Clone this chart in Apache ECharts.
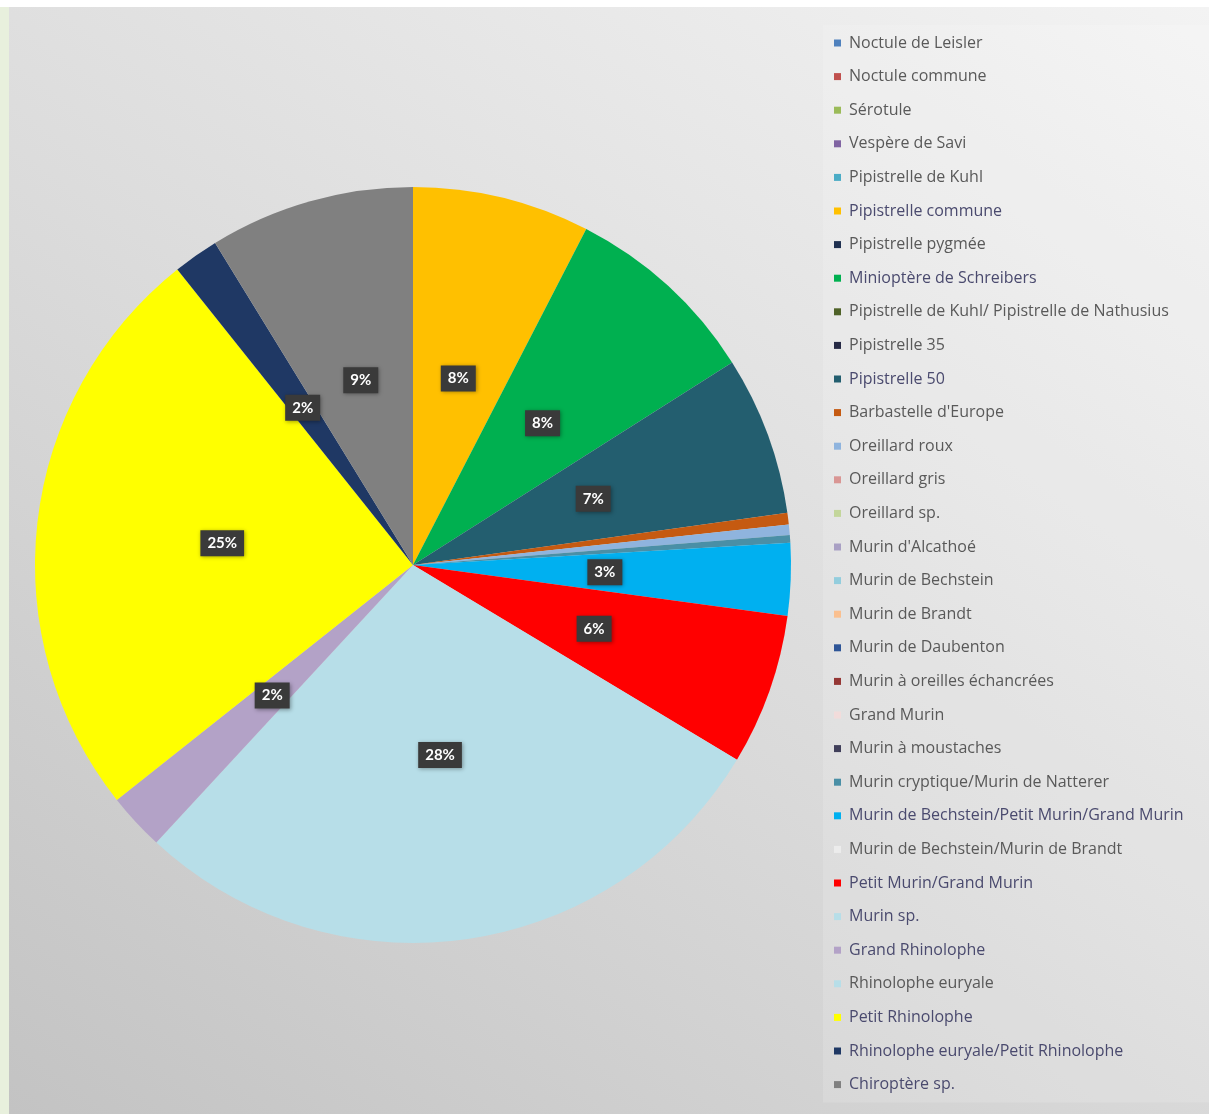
<!DOCTYPE html>
<html>
<head>
<meta charset="utf-8">
<script src="https://cdn.jsdelivr.net/npm/echarts@6/dist/echarts.min.js"></script>
<style>
  html, body { margin: 0; padding: 0; background: #ffffff; }
  #strip { position: absolute; left: 0; top: 7px; width: 9px; height: 1107px; background: #e8f0dd; }
  #chart { position: absolute; left: 9px; top: 7px; width: 1200px; height: 1107px;
           background: linear-gradient(35deg, #c3c3c3 0%, #dcdcdc 50%, #f3f3f3 100%); }
</style>
</head>
<body>
<div id="strip"></div>
<div id="chart"></div>
<script>
const categories = [
  "Noctule de Leisler", "Noctule commune", "Sérotule", "Vespère de Savi",
  "Pipistrelle de Kuhl", "Pipistrelle commune", "Pipistrelle pygmée",
  "Minioptère de Schreibers", "Pipistrelle de Kuhl/ Pipistrelle de Nathusius",
  "Pipistrelle 35", "Pipistrelle 50", "Barbastelle d'Europe", "Oreillard roux",
  "Oreillard gris", "Oreillard sp.", "Murin d'Alcathoé", "Murin de Bechstein",
  "Murin de Brandt", "Murin de Daubenton", "Murin à oreilles échancrées",
  "Grand Murin", "Murin à moustaches", "Murin cryptique/Murin de Natterer",
  "Murin de Bechstein/Petit Murin/Grand Murin", "Murin de Bechstein/Murin de Brandt",
  "Petit Murin/Grand Murin", "Murin sp.", "Grand Rhinolophe", "Rhinolophe euryale",
  "Petit Rhinolophe", "Rhinolophe euryale/Petit Rhinolophe", "Chiroptère sp."
];
// share of contacts (%)
const values = [
  0, 0, 0, 0,
  0, 7.56, 0,
  8.40, 0,
  0, 6.78, 0.50, 0.44,
  0, 0, 0, 0,
  0, 0, 0,
  0, 0, 0.33,
  3.08, 0,
  6.45, 28.20, 2.44, 0,
  24.90, 1.94, 8.75
];
const colors = [
  "#4f81bd", "#c0504d", "#9bbb59", "#8064a2",
  "#4bacc6", "#ffc000", "#1f3050",
  "#00b050", "#4f6228",
  "#262a45", "#235e6f", "#c55a11", "#8fb4de",
  "#d99694", "#c3d69b", "#a9a0c4", "#93cddd",
  "#fac090", "#2e5597", "#953735",
  "#f2dcdb", "#403f5a", "#4a8fa6",
  "#00b0f0", "#ececec",
  "#ff0000", "#b7dee8", "#b3a2c7", "#b7dee8",
  "#ffff00", "#1f3864", "#808080"
];
const flagged = ["Pipistrelle commune", "Minioptère de Schreibers", "Pipistrelle 50",
  "Murin de Bechstein/Petit Murin/Grand Murin", "Petit Murin/Grand Murin", "Murin sp.",
  "Grand Rhinolophe", "Petit Rhinolophe", "Rhinolophe euryale/Petit Rhinolophe", "Chiroptère sp."];

const chart = echarts.init(document.getElementById('chart'), null, { renderer: 'canvas' });
const seriesData = categories.map((n, i) => ({ name: n, value: values[i], itemStyle: { color: colors[i] } }));
const legendData = categories.map(n => flagged.includes(n)
  ? { name: n, textStyle: { color: '#4a4a6e' } }
  : { name: n });

chart.setOption({
  backgroundColor: 'transparent',
  animation: false,
  legend: {
    orient: 'vertical',
    left: 814,
    top: 18,
    padding: [10, 30, 10, 11],
    backgroundColor: 'rgba(255,255,255,0.15)',
    itemWidth: 7,
    itemHeight: 7,
    itemGap: 17.6,
    icon: 'rect',
    data: legendData,
    textStyle: {
      fontFamily: 'Open Sans',
      fontSize: 16,
      lineHeight: 16,
      color: '#595959',
      padding: [0, 0, 0, 3]
    }
  },
  series: [{
    type: 'pie',
    center: [404, 558],
    radius: [0, 378],
    startAngle: 90,
    clockwise: true,
    avoidLabelOverlap: false,
    minShowLabelAngle: 4,
    data: seriesData,
    itemStyle: { borderWidth: 0 },
    label: {
      show: true,
      position: 'inside',
      formatter: p => Math.round(p.percent) + '%',
      color: '#ffffff',
      fontFamily: 'Lato',
      fontWeight: 'bold',
      fontSize: 15,
      backgroundColor: '#3a3a3a',
      padding: [6, 7, 5, 7],
      shadowColor: 'rgba(0,0,0,0.35)',
      shadowBlur: 4,
      shadowOffsetX: 1,
      shadowOffsetY: 1
    },
    labelLine: { show: false },
    emphasis: { disabled: true }
  }]
});
</script>
</body>
</html>
